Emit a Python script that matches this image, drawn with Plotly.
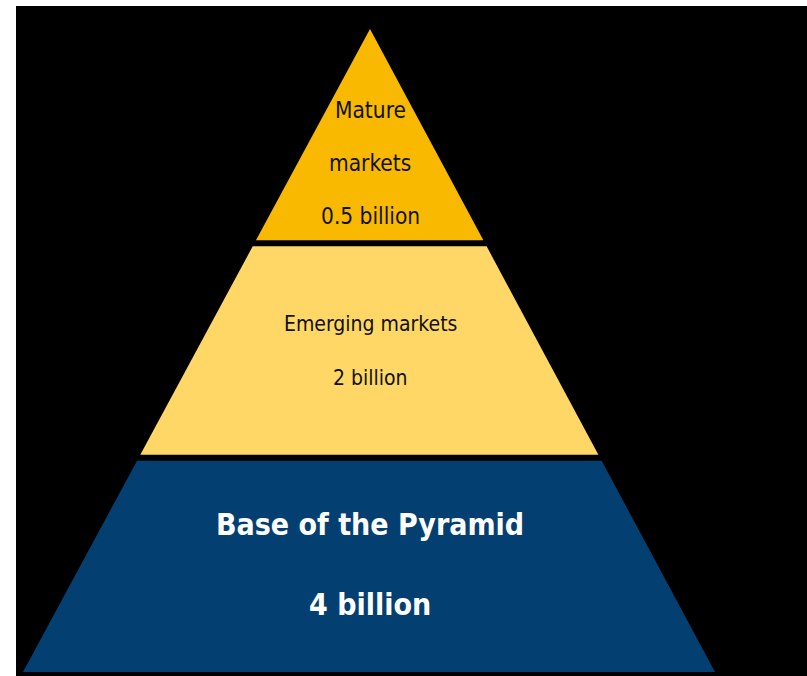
import plotly.graph_objects as go

# Data
segments = ["Mature markets", "Emerging markets", "Base of the Pyramid"]
populations_billion = [0.5, 2, 4]
label_lines = [["Mature", "markets", "0.5 billion"],
               ["Emerging markets", "2 billion"],
               ["Base of the Pyramid", "4 billion"]]
fill_colors = ["#F9B900", "#FFD766", "#043F71"]
text_colors = ["#111111", "#111111", "#FFFFFF"]
font_sizes = [22.5, 21, 30]
bold = [False, False, True]

# Geometry (pixel-like coordinates of the canvas)
W, H = 807, 676
apex = (370, 29)
base_left, base_right, base_y = 23, 715, 672
gap = 6
label_offsets = [28, 0, -2]
line_spacing = [53, 54, 80]

def edge_x(y):
    t = (y - apex[1]) / (base_y - apex[1])
    return apex[0] + t * (base_left - apex[0]), apex[0] + t * (base_right - apex[0])

n = len(segments)
fig = go.Figure()
for i in range(n):
    y0 = apex[1] + (base_y - apex[1]) * i / n
    y1 = apex[1] + (base_y - apex[1]) * (i + 1) / n
    top = y0 + (gap / 2 if i > 0 else 0)
    bot = y1 - (gap / 2 if i < n - 1 else 0)
    lt, rt = edge_x(top)
    lb, rb = edge_x(bot)
    fig.add_trace(go.Scatter(
        x=[lt, rt, rb, lb, lt], y=[top, top, bot, bot, top],
        mode="lines", fill="toself", fillcolor=fill_colors[i],
        line=dict(width=0, color=fill_colors[i]),
        name=f"{segments[i]}: {populations_billion[i]} billion",
        hoverinfo="name", showlegend=False))
    lines = label_lines[i]
    mid = (top + bot) / 2 + label_offsets[i]
    for k, txt in enumerate(lines):
        ty = mid + (k - (len(lines) - 1) / 2) * line_spacing[i]
        fig.add_annotation(
            x=apex[0], y=ty, text=f"<b>{txt}</b>" if bold[i] else txt,
            showarrow=False, xanchor="center", yanchor="middle",
            font=dict(family="DejaVu Sans Condensed, Liberation Sans Narrow, Liberation Sans, sans-serif",
                      size=font_sizes[i], color=text_colors[i]))

fig.update_layout(
    width=W, height=H,
    margin=dict(l=16, r=0, t=6, b=0),
    paper_bgcolor="#FFFFFF", plot_bgcolor="#000000",
    xaxis=dict(range=[16, W], visible=False, fixedrange=True),
    yaxis=dict(range=[H, 6], visible=False, fixedrange=True),
    showlegend=False,
)
fig.write_html("out.html", config={"displayModeBar": False},
               post_script="document.body.style.margin='0';")
